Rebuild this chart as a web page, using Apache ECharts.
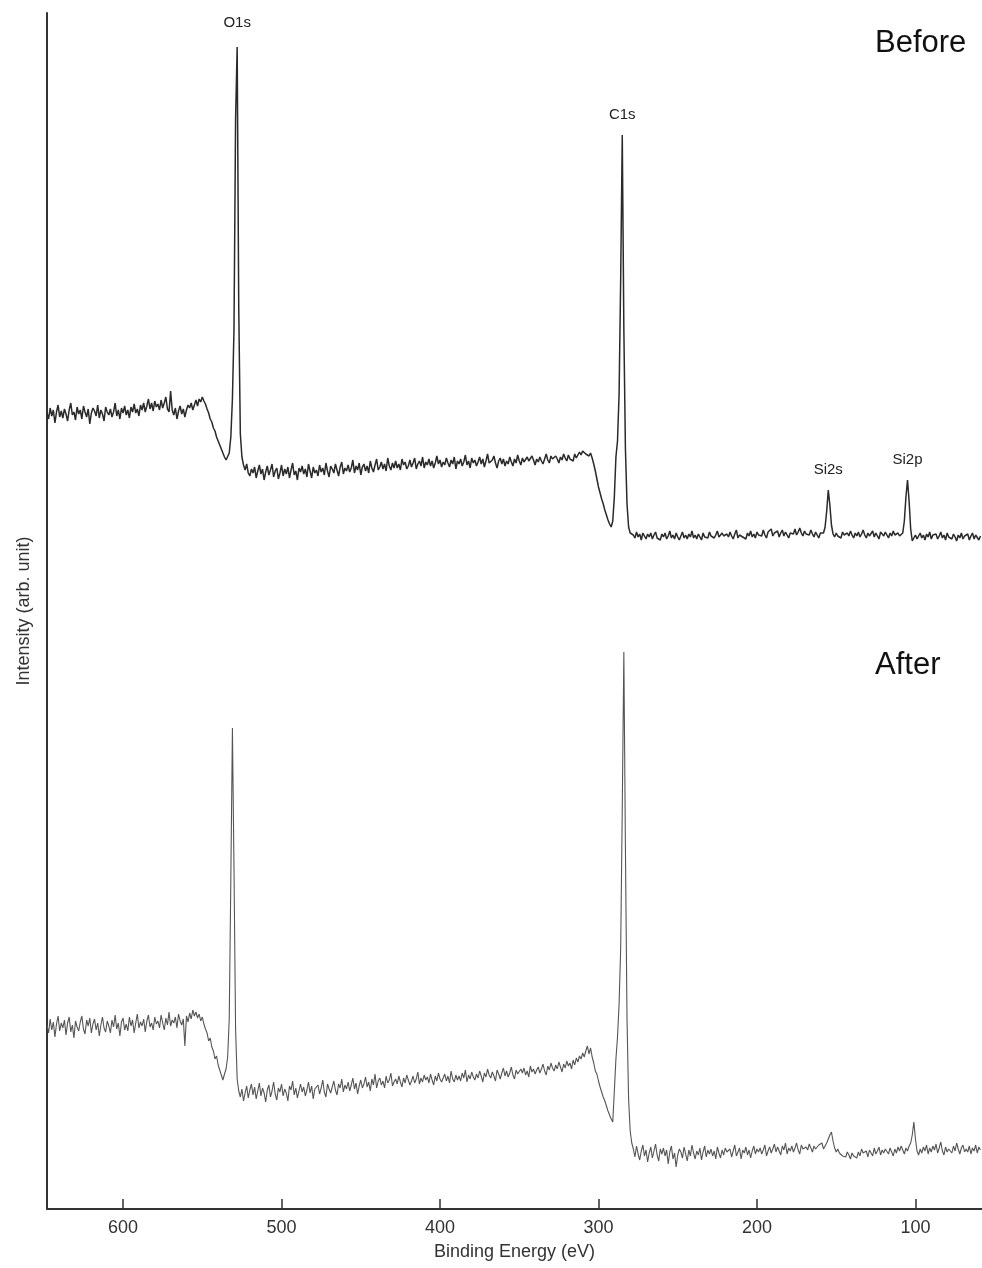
<!DOCTYPE html>
<html>
<head>
<meta charset="utf-8">
<script src="https://cdn.jsdelivr.net/npm/echarts@6/dist/echarts.min.js"></script>
<style>
  html, body { margin: 0; padding: 0; background: #fff; }
  #xps { width: 982px; height: 1268px; }
</style>
</head>
<body>
<div id="xps"></div>
<script>
// binding energy grid: 648 eV down to 59 eV, 1 eV step
var eStart = 648;
var eStep = 1;
var xTicks = [600, 500, 400, 300, 200, 100];

// survey spectrum before treatment (arb. units, offset)
var before = [
  796, 790, 801, 793, 799, 786, 797, 804, 792, 798, // 648-639
  791, 800, 795, 788, 799, 806, 794, 797, 789, 802, // 638-629
  795, 799, 790, 803, 797, 792, 800, 785, 796, 801, // 628-619
  798, 793, 804, 791, 799, 795, 788, 802, 797, 794, // 618-609
  800, 792, 797, 806, 793, 799, 790, 801, 796, 803, // 608-599
  794, 799, 791, 802, 797, 805, 796, 800, 793, 804, // 598-589
  799, 806, 797, 803, 810, 800, 806, 798, 808, 802, // 588-579
  805, 799, 809, 801, 806, 812, 800, 797, 818, 799, // 578-569
  794, 801, 790, 798, 803, 795, 800, 792, 799, 804, // 568-559
  801, 806, 799, 804, 809, 803, 810, 807, 812, 808, // 558-549
  805, 800, 796, 790, 787, 781, 778, 772, 768, 764, // 548-539
  760, 756, 752, 749, 751, 756, 772, 810, 880, 1090, // 538-529
  1162, 900, 775, 752, 744, 739, 745, 736, 733, 740, // 528-519
  736, 742, 731, 738, 744, 735, 740, 729, 737, 743, // 518-509
  734, 739, 745, 732, 738, 741, 730, 736, 744, 733, // 508-499
  740, 735, 742, 731, 739, 746, 734, 738, 729, 741, // 498-489
  737, 743, 735, 740, 732, 745, 738, 731, 742, 736, // 488-479
  739, 733, 744, 737, 741, 734, 746, 738, 732, 743, // 478-469
  740, 736, 745, 739, 733, 742, 747, 735, 741, 738, // 468-459
  744, 737, 741, 749, 736, 743, 739, 746, 734, 742, // 458-449
  745, 738, 743, 736, 748, 741, 737, 744, 750, 739, // 448-439
  742, 747, 740, 745, 738, 751, 743, 739, 746, 741, // 438-429
  748, 741, 745, 739, 750, 744, 747, 740, 743, 749, // 428-419
  742, 746, 751, 740, 745, 748, 743, 752, 741, 747, // 418-409
  744, 750, 743, 748, 741, 746, 753, 745, 749, 742, // 408-399
  747, 744, 751, 746, 742, 749, 745, 752, 740, 748, // 398-389
  745, 750, 743, 747, 754, 744, 748, 741, 751, 746, // 388-379
  749, 743, 747, 752, 745, 750, 742, 748, 755, 746, // 378-369
  744, 749, 753, 746, 741, 748, 751, 745, 750, 743, // 368-359
  748, 745, 752, 747, 743, 750, 746, 754, 748, 744, // 358-349
  751, 747, 745, 752, 748, 746, 753, 749, 744, 750, // 348-339
  747, 752, 748, 745, 750, 755, 749, 746, 753, 750, // 338-329
  748, 753, 750, 746, 752, 749, 755, 751, 748, 754, // 328-319
  750, 752, 748, 755, 751, 753, 757, 754, 758, 756, // 318-309
  755, 757, 753, 756, 751, 745, 738, 730, 722, 716, // 308-299
  710, 705, 699, 694, 689, 685, 682, 688, 712, 752, // 298-289
  768, 815, 930, 1074, 880, 760, 705, 682, 676, 674, // 288-279
  674, 671, 677, 672, 675, 669, 676, 673, 670, 675, // 278-269
  672, 676, 670, 674, 677, 671, 673, 669, 675, 672, // 268-259
  676, 670, 673, 678, 671, 674, 670, 676, 672, 669, // 258-249
  673, 677, 671, 674, 670, 675, 672, 678, 671, 674, // 248-239
  670, 675, 673, 669, 676, 672, 674, 671, 677, 673, // 238-229
  675, 671, 674, 678, 672, 670, 676, 673, 671, 675, // 228-219
  672, 677, 673, 670, 675, 679, 671, 674, 676, 672, // 218-209
  674, 670, 676, 673, 678, 672, 675, 671, 677, 674, // 208-199
  676, 673, 679, 674, 671, 677, 675, 680, 673, 676, // 198-189
  674, 678, 672, 676, 679, 673, 677, 675, 671, 676, // 188-179
  678, 675, 680, 674, 677, 681, 676, 673, 678, 675, // 178-169
  677, 674, 679, 675, 672, 677, 674, 671, 676, 675, // 168-159
  676, 682, 698, 719, 704, 684, 675, 672, 676, 673, // 158-149
  675, 671, 677, 674, 672, 676, 673, 678, 674, 671, // 148-139
  676, 673, 677, 672, 675, 679, 674, 671, 676, 673, // 138-129
  675, 678, 672, 676, 674, 670, 677, 675, 673, 677, // 128-119
  674, 671, 676, 673, 678, 674, 672, 676, 673, 675, // 118-109
  676, 688, 712, 729, 708, 680, 668, 671, 674, 670, // 108-99
  673, 676, 671, 674, 669, 675, 672, 677, 670, 674, // 98-89
  672, 675, 670, 673, 677, 671, 674, 669, 676, 672, // 88-79
  674, 670, 675, 672, 668, 674, 671, 676, 670, 673, // 78-69
  671, 675, 669, 673, 676, 670, 674, 672, 669, 673  // 68-59
];

// survey spectrum after treatment
var after = [
  184, 176, 190, 179, 187, 172, 185, 193, 178, 186, // 648-639
  181, 189, 174, 186, 192, 177, 184, 171, 188, 182, // 638-629
  178, 187, 193, 180, 175, 189, 183, 191, 176, 185, // 628-619
  190, 179, 186, 173, 184, 192, 181, 177, 188, 183, // 618-609
  176, 189, 182, 194, 180, 186, 173, 187, 191, 179, // 608-599
  185, 178, 192, 183, 189, 176, 186, 195, 181, 187, // 598-589
  183, 190, 177, 188, 194, 182, 186, 179, 192, 185, // 588-579
  188, 181, 194, 186, 179, 191, 184, 197, 183, 189, // 578-569
  186, 192, 181, 195, 188, 184, 190, 163, 193, 187, // 568-559
  196, 190, 199, 193, 197, 191, 195, 188, 192, 185, // 558-549
  180, 176, 168, 171, 162, 158, 150, 153, 144, 139, // 548-539
  134, 129, 135, 140, 152, 190, 330, 481, 340, 180, // 538-529
  130, 118, 112, 120, 108, 116, 123, 111, 119, 125, // 528-519
  114, 122, 110, 118, 126, 113, 121, 116, 107, 119, // 518-509
  124, 112, 118, 127, 115, 109, 121, 117, 125, 113, // 508-499
  120, 116, 108, 123, 119, 128, 114, 121, 111, 118, // 498-489
  125, 117, 122, 113, 119, 127, 116, 123, 110, 120, // 488-479
  118, 124, 115, 121, 129, 117, 112, 125, 120, 116, // 478-469
  122, 128, 119, 114, 125, 121, 130, 117, 124, 120, // 468-459
  127, 118, 124, 131, 120, 126, 115, 123, 129, 121, // 458-449
  125, 132, 122, 127, 118, 130, 124, 135, 121, 128, // 448-439
  131, 124, 128, 121, 133, 126, 129, 136, 123, 127, // 438-429
  130, 125, 133, 127, 122, 131, 126, 134, 129, 124, // 428-419
  128, 133, 126, 130, 137, 125, 131, 127, 134, 129, // 418-409
  132, 126, 135, 129, 124, 133, 128, 136, 130, 127, // 408-399
  131, 135, 128, 133, 126, 138, 130, 127, 134, 129, // 398-389
  133, 128, 136, 131, 139, 127, 134, 130, 137, 132, // 388-379
  129, 135, 131, 138, 133, 127, 136, 132, 140, 134, // 378-369
  131, 137, 133, 128, 139, 135, 130, 136, 141, 133, // 368-359
  138, 132, 136, 142, 134, 130, 139, 135, 133, 140, // 358-349
  136, 141, 134, 138, 132, 143, 137, 140, 135, 139, // 348-339
  142, 136, 140, 145, 138, 134, 143, 139, 146, 141, // 338-329
  138, 144, 140, 147, 142, 137, 145, 141, 148, 143, // 328-319
  146, 140, 149, 144, 151, 147, 153, 150, 156, 152, // 318-309
  158, 163, 155, 161, 152, 146, 138, 135, 128, 122, // 308-299
  117, 112, 108, 103, 98, 94, 90, 87, 118, 150,     // 298-289
  172, 205, 260, 400, 557, 360, 190, 110, 78, 66,   // 288-279
  60, 52, 63, 55, 49, 58, 64, 53, 59, 47,           // 278-269
  56, 62, 51, 58, 65, 54, 48, 60, 55, 61,           // 268-259
  53, 59, 45, 57, 63, 50, 56, 42, 54, 60,           // 258-249
  57, 51, 62, 55, 48, 59, 53, 64, 56, 50,           // 248-239
  58, 54, 61, 49, 57, 63, 52, 59, 55, 60,           // 238-229
  53, 58, 50, 62, 56, 51, 59, 54, 61, 57,           // 228-219
  55, 60, 52, 58, 64, 53, 57, 61, 50, 59,           // 218-209
  56, 62, 54, 59, 51, 58, 63, 55, 60, 57,           // 208-199
  61, 55, 59, 64, 53, 58, 62, 56, 60, 65,           // 198-189
  57, 62, 58, 54, 63, 59, 66, 55, 61, 58,           // 188-179
  63, 57, 61, 66, 59, 55, 64, 60, 58, 62,           // 178-169
  59, 65, 61, 57, 63, 60, 58, 64, 62, 66,           // 168-159
  60, 63, 66, 70, 74, 77, 68, 61, 57, 60,           // 158-149
  56, 58, 53, 55, 52, 57, 54, 50, 56, 53,           // 148-139
  55, 51, 57, 53, 60, 56, 54, 58, 52, 59,           // 138-129
  57, 53, 61, 55, 58, 62, 54, 59, 56, 60,           // 128-119
  58, 55, 61, 57, 53, 60, 56, 62, 58, 63,           // 118-109
  59, 55, 61, 58, 63, 66, 74, 87, 70, 58,           // 108-99
  54, 60, 56, 62, 58, 64, 55, 61, 57, 63,           // 98-89
  59, 65, 56, 61, 67, 58, 54, 62, 57, 60,           // 88-79
  62, 56, 63, 58, 66, 60, 55, 61, 64, 57,           // 78-69
  60, 57, 63, 55, 61, 58, 64, 56, 62, 59            // 68-59
];

// peak labels on the "before" curve
var peakNames = ['O1s', 'C1s', 'Si2s', 'Si2p'];
var peakEnergy = [528, 285, 155, 105];

function toPairs(vals) {
  return vals.map(function (v, i) { return [eStart - i * eStep, v]; });
}

var peakMarks = peakNames.map(function (n, k) {
  var idx = (eStart - peakEnergy[k]) / eStep;
  return {
    name: n,
    coord: [peakEnergy[k], before[idx]],
    label: { distance: k === 0 ? 17 : 13 }
  };
});

var font = "'Liberation Sans', Arial, sans-serif";
var chart = echarts.init(document.getElementById('xps'));

chart.setOption({
  animation: false,
  backgroundColor: '#fff',
  grid: { left: 47, right: 0, top: 13, bottom: 59 },
  xAxis: {
    type: 'value',
    inverse: true,
    min: 58,
    max: 648,
    name: 'Binding Energy (eV)',
    nameLocation: 'middle',
    nameGap: 34,
    nameTextStyle: { fontFamily: font, fontSize: 18, color: '#333' },
    axisLine: { lineStyle: { color: '#333', width: 2 } },
    axisTick: { inside: true, length: 10, customValues: xTicks, lineStyle: { color: '#333', width: 1.5 } },
    axisLabel: { customValues: xTicks, margin: 10, fontFamily: font, fontSize: 18, color: '#333' },
    splitLine: { show: false }
  },
  yAxis: {
    type: 'value',
    min: 0,
    max: 1196,
    name: 'Intensity (arb. unit)',
    nameLocation: 'middle',
    nameGap: 14,
    nameTextStyle: { fontFamily: font, fontSize: 18, color: '#333' },
    axisLine: { show: true, onZero: false, lineStyle: { color: '#333', width: 2 } },
    axisTick: { show: false },
    axisLabel: { show: false },
    splitLine: { show: false }
  },
  series: [
    {
      name: 'Before',
      type: 'line',
      showSymbol: false,
      sampling: null,
      lineStyle: { color: '#2a2a2a', width: 1.5 },
      data: toPairs(before),
      markPoint: {
        symbol: 'circle',
        symbolSize: 0,
        label: { show: true, position: 'top', formatter: '{b}', fontFamily: font, fontSize: 15, color: '#222' },
        data: peakMarks
      }
    },
    {
      name: 'After',
      type: 'line',
      showSymbol: false,
      lineStyle: { color: '#555', width: 1.1 },
      data: toPairs(after)
    }
  ],
  graphic: [
    { type: 'text', x: 875, y: 43, style: { text: 'Before', font: '31px ' + font, fill: '#111', verticalAlign: 'middle' } },
    { type: 'text', x: 875, y: 665, style: { text: 'After', font: '31px ' + font, fill: '#111', verticalAlign: 'middle' } }
  ]
});
</script>
</body>
</html>
